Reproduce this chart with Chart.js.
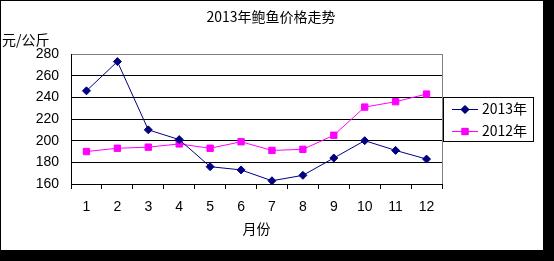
<!DOCTYPE html>
<html>
<head>
<meta charset="utf-8">
<script src="https://cdn.jsdelivr.net/npm/chart.js@4/dist/chart.umd.min.js"></script>
<style>
  body { margin: 0; background: #000; }
  #box { position: absolute; left: 0; top: 0; width: 542px; height: 249px; background: #fff; border-left: 1px solid #000; border-top: 1px solid #000; }
  canvas { display: block; }
</style>
</head>
<body>
<div id="box"><canvas id="myChart" width="542" height="249"></canvas></div>
<script>
'use strict';
let months = ['1', '2', '3', '4', '5', '6', '7', '8', '9', '10', '11', '12'];
let price2013 = [246, 273, 210, 201, 176, 173, 163, 168, 184, 200, 191, 183];
let price2012 = [190, 193, 194, 197, 193, 199, 191, 192, 205, 231, 236, 243];
let seriesNames = ['2013年', '2012年'];
let chartTitle = '2013年鲍鱼价格走势';
let unitLabel = '元/公斤';
let xLabel = '月份';

let cnFont = '"Noto Sans CJK SC", "Liberation Sans", sans-serif';

// title, unit text, plot frame and boxed legend
let extras = {
    id: 'extras',
    afterDraw(chart) {
        let ctx = chart.ctx;
        let a = chart.chartArea;
        ctx.save();
        ctx.strokeStyle = '#808080';
        ctx.lineWidth = 1;
        ctx.beginPath();
        ctx.moveTo(a.right + 0.5, a.top);
        ctx.lineTo(a.right + 0.5, a.bottom);
        ctx.stroke();

        ctx.fillStyle = '#000';
        ctx.font = '14px ' + cnFont;
        ctx.textAlign = 'center';
        ctx.textBaseline = 'middle';
        ctx.fillText(chartTitle, 270, 16);

        ctx.font = '14px ' + cnFont;
        ctx.textAlign = 'left';
        ctx.fillText(unitLabel, 1, 39);

        // legend
        ctx.strokeStyle = '#000';
        ctx.strokeRect(442.5, 96.5, 90, 44);
        let rows = [108, 130];
        chart.data.datasets.forEach(function (ds, i) {
            let y = rows[i];
            ctx.strokeStyle = ds.borderColor;
            ctx.beginPath();
            ctx.moveTo(451, y + 0.5);
            ctx.lineTo(477, y + 0.5);
            ctx.stroke();
            Chart.helpers.drawPoint(ctx, {
                pointStyle: ds.pointStyle, radius: ds.pointRadius, borderWidth: 1
            }, 464, y + 0.5);
            ctx.fillStyle = ds.backgroundColor;
            ctx.fill();
            ctx.fillStyle = '#000';
            ctx.font = '14px ' + cnFont;
            ctx.textAlign = 'left';
            ctx.fillText(ds.label, 481, y);
        });
        ctx.restore();
    }
};

let ctx = document.getElementById('myChart').getContext('2d');
let myChart = new Chart(ctx, {
    type: 'line',
    data: {
        labels: months,
        datasets: [{
            label: seriesNames[0],
            data: price2013,
            borderColor: '#000080',
            backgroundColor: '#000080',
            borderWidth: 1,
            pointStyle: 'rectRot',
            pointRadius: 4,
            pointBorderWidth: 1,
            tension: 0
        }, {
            label: seriesNames[1],
            data: price2012,
            borderColor: '#ff00ff',
            backgroundColor: '#ff00ff',
            borderWidth: 1,
            pointStyle: 'rect',
            pointRadius: 4.5,
            pointBorderWidth: 1,
            tension: 0
        }]
    },
    options: {
        responsive: false,
        animation: false,
        layout: { padding: { left: 0, right: 101, top: 53, bottom: 0 } },
        plugins: {
            legend: { display: false },
            title: { display: false },
            tooltip: { enabled: false }
        },
        scales: {
            x: {
                offset: true,
                afterFit(scale) { scale.height = 66; },
                grid: { offset: true, drawOnChartArea: false, drawTicks: true, tickLength: 5, color: '#000' },
                border: { display: true, color: '#000' },
                ticks: { color: '#000', padding: 10, font: { size: 14, family: 'Liberation Sans' }, maxRotation: 0 },
                title: { display: true, text: xLabel, color: '#000', font: { size: 14, family: cnFont }, padding: { top: 2, bottom: 13 } }
            },
            y: {
                min: 160,
                max: 280,
                afterFit(scale) { scale.width = 70; },
                ticks: { stepSize: 20, color: '#000', padding: 12, font: { size: 14, family: 'Liberation Sans' } },
                grid: {
                    drawTicks: false,
                    color: function (c) { return c.tick && c.tick.value === 280 ? '#808080' : '#000'; }
                },
                border: { display: true, color: '#000' }
            }
        }
    },
    plugins: [extras]
});
</script>
</body>
</html>
